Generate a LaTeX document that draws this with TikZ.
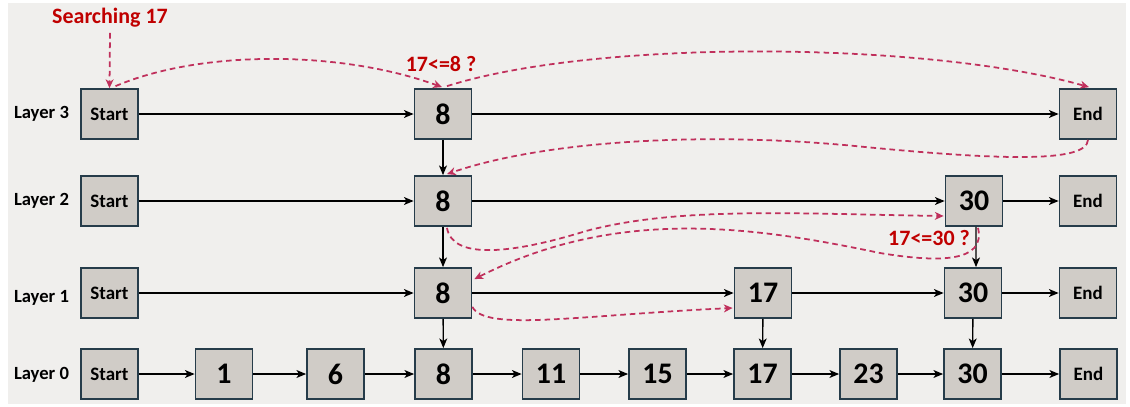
\documentclass[tikz,border=0pt]{standalone}
\usepackage{fontspec}
\setmainfont{Carlito}
\usetikzlibrary{arrows.meta,calc}
\definecolor{panel}{RGB}{240,239,237}
\definecolor{boxfill}{RGB}{208,204,199}
\definecolor{boxline}{RGB}{38,60,74}
\definecolor{hint}{RGB}{192,0,0}
\definecolor{trail}{RGB}{192,48,92}
\tikzset{
  cell/.style={draw=boxline, line width=1pt, fill=boxfill, minimum width=1.14cm,
    minimum height=1.0cm, inner sep=0pt, font=\bfseries\fontsize{17}{18}\selectfont},
  endcell/.style={cell, font=\bfseries\fontsize{10.8}{12}\selectfont},
  layertext/.style={font=\bfseries\fontsize{10.6}{12}\selectfont, inner sep=0pt},
  note/.style={text=hint, font=\bfseries\fontsize{12.5}{14}\selectfont, inner sep=0pt},
  link/.style={line width=0.8pt, -{Stealth[length=5.5pt,width=4.5pt,inset=1.5pt]}},
  path/.style={trail, line width=1pt, dash pattern=on 3.2pt off 2.2pt,
    -{Stealth[length=5pt,width=4.5pt,inset=1.5pt]}}
}
\begin{document}
\begin{tikzpicture}[x=0.02cm,y=-0.02cm]
\useasboundingbox (0,0) rectangle (1130,406);
\fill[white] (0,0) rectangle (1130,406);
\fill[panel] (8,3) rectangle (1126,404);

% layer captions
\node[layertext] (l3) at (41.5,114) {Layer 3};
\node[layertext] (l2) at (41.5,201) {Layer 2};
\node[layertext] (l1) at (41.5,298) {Layer 1};
\node[layertext] (l0) at (41.5,375) {Layer 0};

% layer 3
\node[endcell] (s3) at (109.5,114) {Start};
\node[cell]    (a3) at (443,114) {8};
\node[endcell] (e3) at (1088,114) {End};
% layer 2
\node[endcell] (s2) at (109.5,201) {Start};
\node[cell]    (a2) at (443,201) {8};
\node[cell]    (c2) at (974,201) {30};
\node[endcell] (e2) at (1088,201) {End};
% layer 1
\node[endcell] (s1) at (109.5,293) {Start};
\node[cell]    (a1) at (443,293) {8};
\node[cell]    (b1) at (763,293) {17};
\node[cell]    (c1) at (973,293) {30};
\node[endcell] (e1) at (1088,293) {End};
% layer 0
\node[endcell] (s0) at (109.5,374) {Start};
\node[cell]    (n1) at (224,374) {1};
\node[cell]    (n6) at (335.5,374) {6};
\node[cell]    (a0) at (443.5,374) {8};
\node[cell]    (n11) at (551,374) {11};
\node[cell]    (n15) at (657.5,374) {15};
\node[cell]    (b0) at (762.5,374) {17};
\node[cell]    (n23) at (868.5,374) {23};
\node[cell]    (c0) at (972.5,374) {30};
\node[endcell] (e0) at (1088.5,374) {End};

% horizontal links
\draw[link] (s3) -- (a3);
\draw[link] (a3) -- (e3);
\draw[link] (s2) -- (a2);
\draw[link] (a2) -- (c2);
\draw[link] (c2) -- (e2);
\draw[link] (s1) -- (a1);
\draw[link] (a1) -- (b1);
\draw[link] (b1) -- (c1);
\draw[link] (c1) -- (e1);
\foreach \p/\q in {s0/n1,n1/n6,n6/a0,a0/n11,n11/n15,n15/b0,b0/n23,n23/c0,c0/e0}
  \draw[link] (\p) -- (\q);

% vertical links
\draw[link] (a3) -- (a2);
\draw[link] (a2) -- (a1);
\draw[link] (a1) -- (a0);
\draw[link] (b1) -- (b0);
\draw[link] ([xshift=0.04cm]c2.south) -- ([xshift=0.06cm]c1.north);
\draw[link] (c1) -- (c0);

% search trail
\node[note] (search) at (110,18) {Searching 17};
\node[note] (q8) at (441,64) {17<=8 ?};
\node[note] (q30) at (929,238) {17<=30 ?};

\draw[path] ($(search.south)+(0,5)$) -- (s3.north);
\draw[path] ($(s3.north)+(6,-2)$) .. controls (200,50) and (340,50) .. ($(a3.north)+(-1,-1)$);
\draw[path] ($(a3.north)+(4,-2)$) .. controls (600,38) and (930,42) .. ($(e3.north)+(1,-1)$);
\draw[path] (e3.south) .. controls (1087,163) and (1000,160) .. (865,147)
  .. controls (700,130) and (540,142) .. ($(a2.north)+(4,-1)$);
\draw[path] ($(a2.south)+(4,1)$) .. controls (452,258) and (505,256) .. (586,231)
  .. controls (680,206) and (800,214) .. ($(c2.west)+(-1,15)$);
\draw[path] ($(c2.south)+(4,1)$) .. controls (986,262) and (940,263) .. (880,253)
  .. controls (760,228) and (620,205) .. ($(a1.north east)+(2,12)$);
\draw[path] ($(a1.south east)+(0,-12)$) .. controls (485,332) and (580,315) .. ($(b1.west)+(-1,15)$);
\end{tikzpicture}
\end{document}
